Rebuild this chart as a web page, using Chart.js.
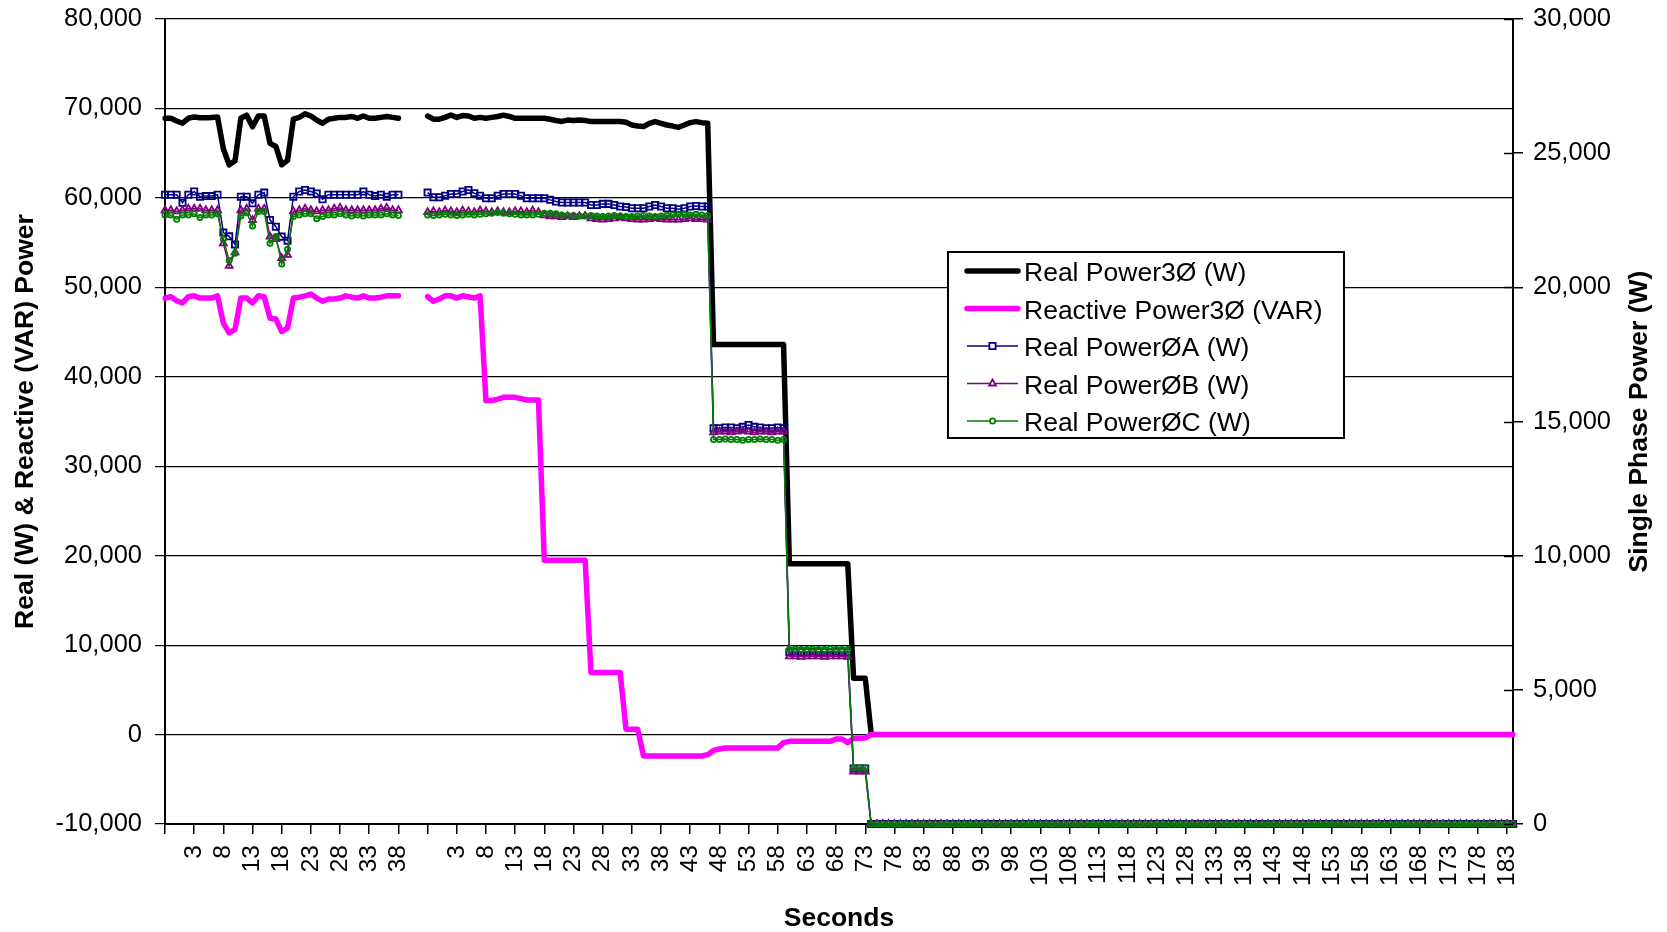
<!DOCTYPE html>
<html>
<head>
<meta charset="utf-8">
<script src="https://cdn.jsdelivr.net/npm/chart.js@4.4.1/dist/chart.umd.min.js"></script>
<style>
html,body{margin:0;padding:0;background:#fff;}
#wrap{width:1667px;height:932px;position:relative;}
canvas{display:block;}
</style>
</head>
<body>
<div id="wrap"><canvas id="c" width="1667" height="932"></canvas></div>
<script>
// ---------- categories (seconds) ----------
function seq(a, b) { const r = []; for (let i = a; i <= b; i++) r.push(String(i)); return r; }
const SEG1_SECONDS = ['', ''].concat(seq(0, 38));
const GAP_SECONDS = ['', '', '', ''];
const SEG2_SECONDS = ['', ''].concat(seq(0, 184));
const SECONDS = SEG1_SECONDS.concat(GAP_SECONDS, SEG2_SECONDS);
const GAP = [null, null, null, null];

// ---------- Real Power 3Ø (W) ----------
const REAL_3PH_SEG1 = [68900, 68900, 68600, 68350, 68900, 69050, 68950, 68950, 69000, 69050,
  65500, 63700, 64150, 68900, 69250, 67950, 69150, 69150, 66100, 65750,
  63700, 64200, 68800, 69000, 69400, 69150, 68700, 68350, 68800, 68900,
  69000, 69000, 69100, 68900, 69150, 68900, 68900, 69000, 69100, 69000, 68900];
const REAL_3PH_SEG2 = [69150, 68800, 68800, 69000, 69270, 69000, 69200, 69150, 68900, 69000,
  68900, 69000, 69100, 69250, 69100, 68900, 68900, 68900, 68900, 68900,
  68900, 68790, 68650, 68550, 68700, 68650, 68700, 68650, 68530, 68530,
  68530, 68530, 68530, 68530, 68450, 68150, 68030, 67970, 68340, 68530,
  68340, 68150, 68030, 67890, 68150, 68410, 68530, 68410, 68340,
  43600, 43600, 43600, 43600, 43600, 43600, 43600, 43600, 43600, 43600, 43600, 43600, 43600,
  19100, 19100, 19100, 19100, 19100, 19100, 19100, 19100, 19100, 19100, 19100,
  6300, 6300, 6300,
  200];

// ---------- Reactive Power 3Ø (VAR) ----------
const REACT_3PH_SEG1 = [48800, 48950, 48500, 48250, 48950, 49050, 48800, 48800, 48800, 49050,
  46000, 44900, 45300, 48800, 48800, 48250, 49050, 48950, 46550, 46450,
  45050, 45450, 48800, 48900, 49050, 49250, 48800, 48450, 48700, 48700,
  48800, 49050, 48900, 48800, 49050, 48800, 48800, 48900, 49050, 49050, 49050];
const REACT_3PH_SEG2 = [48950, 48450, 48700, 49050, 49050, 48800, 49050, 48950, 48800, 49050,
  37350, 37350, 37500, 37700, 37700, 37700, 37550, 37400, 37400, 37400,
  19500, 19500, 19500, 19500, 19500, 19500, 19500, 19500,
  6950, 6950, 6950, 6950, 6950, 6950,
  600, 600, 600,
  -2400, -2400, -2400, -2400, -2400, -2400, -2400, -2400, -2400, -2400, -2400,
  -2250, -1770, -1620,
  -1500, -1500, -1500, -1500, -1500, -1500, -1500, -1500, -1500, -1500,
  -900,
  -760, -760, -760, -760, -760, -760, -760, -760,
  -500, -500, -900, -400, -400, -380,
  0, 0, 0, 0, 0, 0, 0, 0, 0, 0, 0, 0, 0, 0, 0, 0, 0, 0, 0, 0,
  0, 0, 0, 0, 0, 0, 0, 0, 0, 0, 0, 0, 0, 0, 0, 0, 0, 0, 0, 0,
  0, 0, 0, 0, 0, 0, 0, 0, 0, 0, 0, 0, 0, 0, 0, 0, 0, 0, 0, 0,
  0, 0, 0, 0, 0, 0, 0, 0, 0, 0, 0, 0, 0, 0, 0, 0, 0, 0, 0, 0,
  0, 0, 0, 0, 0, 0, 0, 0, 0, 0, 0, 0, 0, 0, 0, 0, 0, 0, 0, 0,
  0, 0, 0, 0, 0, 0, 0, 0, 0, 0, 0];

// ---------- Real Power ØA (W) ----------
const REAL_A_SEG1 = [23450, 23450, 23450, 23150, 23450, 23570, 23380, 23400, 23400, 23450,
  22040, 21900, 21600, 23380, 23380, 23130, 23450, 23530, 22510, 22260,
  21890, 21740, 23380, 23570, 23630, 23570, 23500, 23280, 23450, 23450,
  23450, 23450, 23450, 23450, 23570, 23450, 23400, 23450, 23380, 23450, 23450];
const REAL_A_SEG2 = [23530, 23360, 23360, 23410, 23480, 23480, 23570, 23630, 23510, 23410,
  23320, 23320, 23410, 23480, 23480, 23480, 23410, 23320, 23320, 23320,
  23320, 23260, 23200, 23160, 23160, 23160, 23160, 23160, 23070, 23070,
  23110, 23110, 23070, 23010, 22990, 22950, 22950, 22950, 23010, 23070,
  23010, 22950, 22950, 22910, 22950, 23010, 23030, 23010, 23010,
  14750, 14750, 14780, 14780, 14750, 14800, 14870, 14800, 14780, 14750, 14750, 14780, 14750,
  6400, 6430, 6400, 6400, 6430, 6400, 6400, 6400, 6430, 6400, 6400,
  2070, 2070, 2070,
  0, 0, 0, 0, 0, 0, 0, 0, 0, 0, 0, 0, 0, 0, 0, 0, 0, 0, 0, 0,
  0, 0, 0, 0, 0, 0, 0, 0, 0, 0, 0, 0, 0, 0, 0, 0, 0, 0, 0, 0,
  0, 0, 0, 0, 0, 0, 0, 0, 0, 0, 0, 0, 0, 0, 0, 0, 0, 0, 0, 0,
  0, 0, 0, 0, 0, 0, 0, 0, 0, 0, 0, 0, 0, 0, 0, 0, 0, 0, 0, 0,
  0, 0, 0, 0, 0, 0, 0, 0, 0, 0, 0, 0, 0, 0, 0, 0, 0, 0, 0, 0,
  0, 0, 0, 0, 0, 0, 0, 0, 0, 0, 0];

// ---------- Real Power ØB (W) ----------
const REAL_B_SEG1 = [22870, 22870, 22830, 22870, 22930, 22930, 22930, 22870, 22870, 22870,
  21640, 20800, 21300, 22870, 22930, 22510, 22930, 22930, 21890, 21800,
  21090, 21210, 22830, 22870, 22930, 22870, 22830, 22870, 22870, 22930,
  22960, 22870, 22870, 22870, 22870, 22870, 22870, 22930, 22960, 22870, 22870];
const REAL_B_SEG2 = [22800, 22830, 22800, 22860, 22830, 22800, 22860, 22830, 22800, 22860,
  22830, 22800, 22830, 22800, 22800, 22830, 22830, 22800, 22860, 22800,
  22680, 22650, 22650, 22620, 22650, 22620, 22650, 22660,
  22570, 22540, 22520, 22540, 22570, 22600, 22570, 22540, 22520, 22520,
  22540, 22570, 22540, 22520, 22520, 22520, 22540, 22570, 22540, 22540, 22520,
  14600, 14620, 14620, 14600, 14620, 14650, 14620, 14600, 14620, 14620, 14600, 14620, 14620,
  6250, 6250, 6230, 6250, 6250, 6250, 6230, 6250, 6250, 6250, 6230,
  1950, 1950, 1950,
  0, 0, 0, 0, 0, 0, 0, 0, 0, 0, 0, 0, 0, 0, 0, 0, 0, 0, 0, 0,
  0, 0, 0, 0, 0, 0, 0, 0, 0, 0, 0, 0, 0, 0, 0, 0, 0, 0, 0, 0,
  0, 0, 0, 0, 0, 0, 0, 0, 0, 0, 0, 0, 0, 0, 0, 0, 0, 0, 0, 0,
  0, 0, 0, 0, 0, 0, 0, 0, 0, 0, 0, 0, 0, 0, 0, 0, 0, 0, 0, 0,
  0, 0, 0, 0, 0, 0, 0, 0, 0, 0, 0, 0, 0, 0, 0, 0, 0, 0, 0, 0,
  0, 0, 0, 0, 0, 0, 0, 0, 0, 0, 0];

// ---------- Real Power ØC (W) ----------
const REAL_C_SEG1 = [22700, 22700, 22540, 22700, 22700, 22740, 22600, 22700, 22700, 22740,
  21790, 21000, 21270, 22660, 22780, 22290, 22830, 22830, 21640, 21890,
  20870, 21420, 22640, 22700, 22740, 22740, 22560, 22640, 22700, 22700,
  22740, 22700, 22660, 22700, 22660, 22700, 22700, 22700, 22740, 22700, 22680];
const REAL_C_SEG2 = [22700, 22680, 22700, 22720, 22700, 22680, 22700, 22720, 22700, 22720,
  22740, 22760, 22790, 22760, 22740, 22720, 22700, 22700, 22700, 22720,
  22760, 22760, 22740, 22700, 22680, 22680, 22660, 22660, 22680, 22660,
  22640, 22660, 22680, 22660, 22640, 22640, 22660, 22680, 22660, 22640,
  22660, 22680, 22700, 22720, 22720, 22700, 22720, 22700, 22680,
  14330, 14330, 14350, 14330, 14330, 14300, 14330, 14330, 14350, 14330, 14330, 14300, 14330,
  6500, 6520, 6500, 6500, 6520, 6500, 6500, 6520, 6500, 6500, 6500,
  2100, 2100, 2100,
  0, 0, 0, 0, 0, 0, 0, 0, 0, 0, 0, 0, 0, 0, 0, 0, 0, 0, 0, 0,
  0, 0, 0, 0, 0, 0, 0, 0, 0, 0, 0, 0, 0, 0, 0, 0, 0, 0, 0, 0,
  0, 0, 0, 0, 0, 0, 0, 0, 0, 0, 0, 0, 0, 0, 0, 0, 0, 0, 0, 0,
  0, 0, 0, 0, 0, 0, 0, 0, 0, 0, 0, 0, 0, 0, 0, 0, 0, 0, 0, 0,
  0, 0, 0, 0, 0, 0, 0, 0, 0, 0, 0, 0, 0, 0, 0, 0, 0, 0, 0, 0,
  0, 0, 0, 0, 0, 0, 0, 0, 0, 0, 0];

const REAL_3PH = REAL_3PH_SEG1.concat(GAP, REAL_3PH_SEG2);
const REACT_3PH = REACT_3PH_SEG1.concat(GAP, REACT_3PH_SEG2);
const REAL_A = REAL_A_SEG1.concat(GAP, REAL_A_SEG2);
const REAL_B = REAL_B_SEG1.concat(GAP, REAL_B_SEG2);
const REAL_C = REAL_C_SEG1.concat(GAP, REAL_C_SEG2);

const LEFT_TICKS = { min: -10000, max: 80000, step: 10000 };
const RIGHT_TICKS = { min: 0, max: 30000, step: 5000 };

// ---------- styling ----------
const FONT = "'Liberation Sans', Arial, Helvetica, sans-serif";
const fmt = v => Number(v).toLocaleString('en-US');
function noPad(s) { s.paddingTop = 0; s.paddingBottom = 0; s.paddingLeft = 0; s.paddingRight = 0; }

const legendBox = {
  id: 'legendBox',
  afterDatasetsDraw(chart, args, o) {
    const ctx = chart.ctx;
    ctx.save();
    ctx.fillStyle = '#fff';
    ctx.fillRect(o.x, o.y, o.w, o.h);
    ctx.lineWidth = 2;
    ctx.strokeStyle = '#000';
    ctx.strokeRect(o.x, o.y, o.w, o.h);
    chart.data.datasets.forEach((ds, i) => {
      const cy = o.y + o.first + i * o.row;
      ctx.beginPath();
      ctx.strokeStyle = ds.borderColor;
      ctx.lineWidth = ds.borderWidth;
      ctx.lineCap = ds.borderWidth > 3 ? 'round' : 'butt';
      ctx.moveTo(o.lx0, cy);
      ctx.lineTo(o.lx1, cy);
      ctx.stroke();
      if (ds.pointRadius > 0) {
        const mx = (o.lx0 + o.lx1) / 2;
        ctx.fillStyle = '#fff';
        ctx.lineWidth = ds.pointBorderWidth;
        ctx.lineCap = 'butt';
        const r = ds.pointRadius;
        ctx.beginPath();
        if (ds.pointStyle === 'rect') {
          const s = r * Math.SQRT1_2;
          ctx.rect(mx - s, cy - s, 2 * s, 2 * s);
        } else if (ds.pointStyle === 'triangle') {
          ctx.moveTo(mx, cy - r);
          ctx.lineTo(mx + r * 0.866, cy + r * 0.5);
          ctx.lineTo(mx - r * 0.866, cy + r * 0.5);
          ctx.closePath();
        } else {
          ctx.arc(mx, cy, r, 0, Math.PI * 2);
        }
        ctx.fill();
        ctx.stroke();
      }
      ctx.fillStyle = '#000';
      ctx.font = o.font;
      ctx.textAlign = 'left';
      ctx.textBaseline = 'middle';
      ctx.fillText(ds.label, o.tx, cy + 3);
    });
    ctx.restore();
  }
};

const rightExtras = {
  id: 'rightExtras',
  afterDraw(chart, args, o) {
    const ctx = chart.ctx;
    const s = chart.scales.y2;
    ctx.save();
    // inner half of right-axis tick marks
    ctx.strokeStyle = '#000';
    ctx.lineWidth = 1.5;
    s.ticks.forEach(t => {
      const py = Math.round(s.getPixelForValue(t.value)) + 0.5;
      ctx.beginPath();
      ctx.moveTo(s.left - o.inner, py);
      ctx.lineTo(s.left, py);
      ctx.stroke();
    });
    // right axis title, reading bottom to top
    ctx.translate(s.right - o.titleOffset, (chart.chartArea.top + chart.chartArea.bottom) / 2);
    ctx.rotate(-Math.PI / 2);
    ctx.fillStyle = '#000';
    ctx.font = o.titleFont;
    ctx.textAlign = 'center';
    ctx.textBaseline = 'middle';
    ctx.fillText(o.title, 0, 0);
    ctx.restore();
  }
};

const tickFont = { family: FONT, size: 25.5 };
const titleFont = { family: FONT, size: 26.5, weight: 'bold' };

new Chart(document.getElementById('c'), {
  type: 'line',
  data: {
    labels: SECONDS,
    datasets: [
      { label: 'Real Power3Ø (W)', data: REAL_3PH, yAxisID: 'y', borderColor: '#000000',
        borderWidth: 5.5, pointRadius: 0, borderJoinStyle: 'round', borderCapStyle: 'round', order: 5 },
      { label: 'Reactive Power3Ø (VAR)', data: REACT_3PH, yAxisID: 'y', borderColor: '#FF00FF',
        borderWidth: 5.5, pointRadius: 0, borderJoinStyle: 'round', borderCapStyle: 'round', order: 4 },
      { label: 'Real PowerØA (W)', data: REAL_A, yAxisID: 'y2', borderColor: '#000080',
        borderWidth: 1.5, pointStyle: 'rect', pointRadius: 4.4, pointBorderWidth: 1.8,
        pointBorderColor: '#000080', pointBackgroundColor: 'rgba(255,255,255,0)', clip: false, order: 3 },
      { label: 'Real PowerØB (W)', data: REAL_B, yAxisID: 'y2', borderColor: '#800080',
        borderWidth: 1.5, pointStyle: 'triangle', pointRadius: 4, pointBorderWidth: 1.8,
        pointBorderColor: '#800080', pointBackgroundColor: 'rgba(255,255,255,0)', clip: false, order: 2 },
      { label: 'Real PowerØC (W)', data: REAL_C, yAxisID: 'y2', borderColor: '#008000',
        borderWidth: 1.5, pointStyle: 'circle', pointRadius: 2.6, pointBorderWidth: 1.8,
        pointBorderColor: '#008000', pointBackgroundColor: 'rgba(255,255,255,0)', clip: false, order: 1 }
    ]
  },
  options: {
    responsive: false,
    animation: false,
    devicePixelRatio: 1,
    layout: { padding: { top: 19, left: 0, right: 0, bottom: 0 } },
    elements: { line: { tension: 0 } },
    plugins: {
      legend: { display: false },
      tooltip: { enabled: false },
      legendBox: { x: 948, y: 252, w: 396, h: 186, first: 19, row: 37.5,
        lx0: 967, lx1: 1018, tx: 1024, font: "26.5px " + FONT },
      rightExtras: { inner: 9, titleOffset: 27, title: 'Single Phase Power (W)',
        titleFont: "bold 26.5px " + FONT }
    },
    scales: {
      x: {
        type: 'category',
        offset: false,
        afterFit(s) { s.height = 108; noPad(s); },
        grid: {
          drawOnChartArea: false, drawTicks: true, tickLength: 10, lineWidth: 1.5,
          color: c => (c.index % 5 === 0 ? '#000' : 'rgba(0,0,0,0)')
        },
        border: { display: true, color: '#000', width: 2 },
        ticks: {
          autoSkip: false, minRotation: 90, maxRotation: 90, padding: 11,
          color: '#000', font: { family: FONT, size: 24.5 },
          callback: function (value, index) { return index % 5 === 0 ? this.getLabelForValue(value) : ''; }
        },
        title: { display: true, text: 'Seconds', color: '#000',
          font: { family: FONT, size: 26.5, weight: 'bold', lineHeight: 1.0 }, padding: { top: 0, bottom: 0 } }
      },
      y: {
        position: 'left',
        min: LEFT_TICKS.min, max: LEFT_TICKS.max,
        afterFit(s) { s.width = 165; noPad(s); },
        grid: { color: '#000', lineWidth: 1.2, drawTicks: true, tickLength: 10 },
        border: { display: true, color: '#000', width: 2 },
        ticks: { stepSize: LEFT_TICKS.step, padding: 13, color: '#000', font: tickFont, callback: v => fmt(v) },
        title: { display: true, text: 'Real (W) & Reactive (VAR) Power', color: '#000', font: titleFont,
          padding: { top: 10, bottom: 0 } }
      },
      y2: {
        position: 'right',
        min: RIGHT_TICKS.min, max: RIGHT_TICKS.max,
        afterFit(s) { s.width = 154; noPad(s); },
        grid: { drawOnChartArea: false, color: '#000', lineWidth: 1.5, drawTicks: true, tickLength: 10 },
        border: { display: true, color: '#000', width: 2 },
        ticks: { stepSize: RIGHT_TICKS.step, padding: 10, color: '#000', font: tickFont, callback: v => fmt(v) }
      }
    }
  },
  plugins: [legendBox, rightExtras]
});
</script>
</body>
</html>
